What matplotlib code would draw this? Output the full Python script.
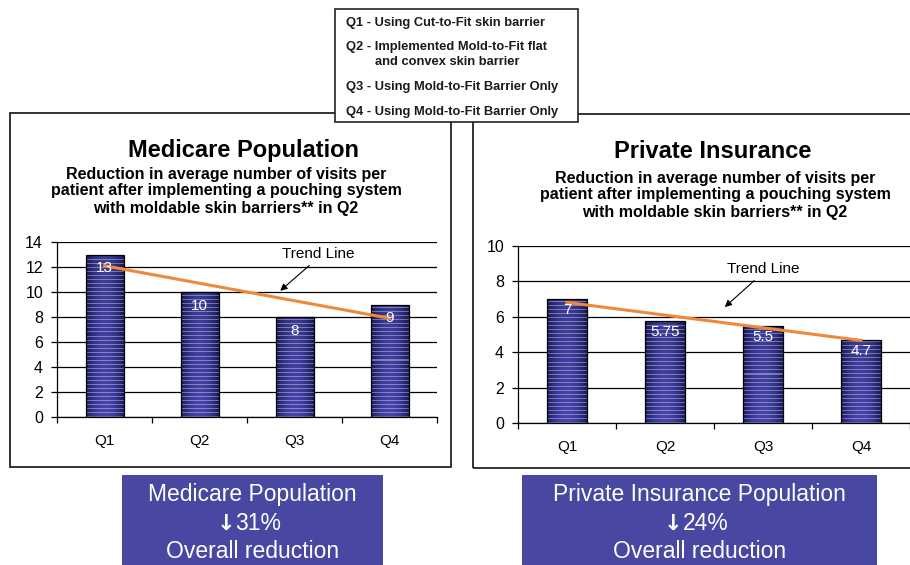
import numpy as np
import matplotlib
matplotlib.use("Agg")
import matplotlib.pyplot as plt
from matplotlib.patches import Rectangle
from matplotlib.text import Annotation

plt.rcParams['font.family'] = ['Liberation Sans', 'DejaVu Sans']

# data
quarters = ['Q1', 'Q2', 'Q3', 'Q4']
medicare_visits = [13, 10, 8, 9]
private_visits = [7, 5.75, 5.5, 4.7]
medicare_labels = ['13', '10', '8', '9']
private_labels = ['7', '5.75', '5.5', '4.7']
medicare_yticks = [0, 2, 4, 6, 8, 10, 12, 14]
private_yticks = [0, 2, 4, 6, 8, 10]

legend_lines = ['Q1 - Using Cut-to-Fit skin barrier',
                'Q2 - Implemented Mold-to-Fit flat',
                'and convex skin barrier',
                'Q3 - Using Mold-to-Fit Barrier Only',
                'Q4 - Using Mold-to-Fit Barrier Only']
subtitle = ['Reduction in average number of visits per',
            'patient after implementing a pouching system',
            'with moldable skin barriers** in Q2']
summary_left = ['Medicare Population', '31%', 'Overall reduction']
summary_right = ['Private Insurance Population', '24%', 'Overall reduction']

W, H = 910, 565
fig = plt.figure(figsize=(W / 100, H / 100), dpi=100)


def fx(px):
    return px / W


def fy(py):
    return 1 - py / H


def frect(x0, y0, x1, y1):
    return [fx(x0), fy(y1), fx(x1) - fx(x0), fy(y0) - fy(y1)]


# panel frames
for x0, y0, x1, y1 in [(10, 113, 451, 467), (473, 114, 925, 468)]:
    fig.add_artist(Rectangle((fx(x0), fy(y1)), fx(x1) - fx(x0), fy(y0) - fy(y1),
                             transform=fig.transFigure, fill=False,
                             edgecolor='#222222', lw=1.3, zorder=1))

dark = np.array([0.10, 0.10, 0.38])
light = np.array([0.27, 0.27, 0.68])


def gradient_bars(ax, bars):
    for b in bars:
        x0, w, h = b.get_x(), b.get_width(), b.get_height()
        p0 = ax.transData.transform((x0, 0))
        p1 = ax.transData.transform((x0 + w, h))
        rows = max(int(abs(p1[1] - p0[1])), 2)
        cols = max(int(abs(p1[0] - p0[0])), 2)
        t = np.abs(np.linspace(-1, 1, cols))
        col = dark + (light - dark) * (1 - t ** 2)[:, None]
        img = np.repeat(col[None, :, :], rows, axis=0)
        # a little darker towards the top
        fade = np.linspace(1.0, 0.85, rows)[:, None, None]
        img = img * fade
        stripe = (np.arange(rows) % 4 == 0)
        img[stripe] = img[stripe] * 0.65 + 0.35
        im = ax.imshow(img, extent=(x0, x0 + w, 0, h), origin='lower',
                       aspect='auto', interpolation='nearest', zorder=2)
        im.set_clip_path(b)


def panel(rect, values, labels, yticks, text_xy, arrow_xy, label_off):
    ax = fig.add_axes(rect)
    x = np.arange(len(quarters))
    ax.set_xlim(-0.5, len(quarters) - 0.5)
    ax.set_ylim(yticks[0], yticks[-1])
    bars = ax.bar(x, values, width=0.4, facecolor='none', edgecolor='black',
                  lw=0.9, zorder=3)
    gradient_bars(ax, bars)
    ax.set_xlim(-0.5, len(quarters) - 0.5)
    ax.set_ylim(yticks[0], yticks[-1])

    coef = np.polyfit(x, values, 1)
    ends = np.array([x[0], x[-1]])
    ax.plot(ends, np.polyval(coef, ends), color='#f0883a', lw=2.2, zorder=4)

    for xi, v, s in zip(x, values, labels):
        ax.annotate(s, (xi, v), xytext=(0, label_off), textcoords='offset points',
                    ha='center', va='center', color='white', fontsize=11, zorder=5)

    ax.annotate('Trend Line', xy=arrow_xy, xytext=text_xy, ha='center', va='center',
                fontsize=11, zorder=6,
                arrowprops=dict(arrowstyle='-|>', color='black', lw=0.8,
                                mutation_scale=10, relpos=(0.45, 0), shrinkA=2, shrinkB=0))

    ax.set_yticks(yticks)
    ax.set_xticks(x)
    ax.set_xticklabels(quarters)
    ax.set_xticks(np.arange(-0.5, len(quarters)), minor=True)
    ax.tick_params(axis='x', which='major', length=0, pad=12, labelsize=11)
    ax.tick_params(axis='x', which='minor', length=4, width=0.9, direction='out')
    ax.tick_params(axis='y', length=4, width=0.9, direction='out', labelsize=11.5, pad=6)
    ax.grid(axis='y', color='black', lw=0.9)
    ax.set_axisbelow(True)
    for s in ['top', 'right']:
        ax.spines[s].set_visible(False)
    for s in ['left', 'bottom']:
        ax.spines[s].set_linewidth(0.9)
    ax.patch.set_alpha(0)
    return ax


panel(frect(57, 242, 437, 417), medicare_visits, medicare_labels, medicare_yticks,
      (2.25, 13.05), (1.85, 10.1), -10)
panel(frect(518, 246, 910, 423), private_visits, private_labels, private_yticks,
      (2.0, 8.7), (1.61, 6.55), -8)

# titles
fig.text(fx(243), fy(150), 'Medicare Population', ha='center', va='center',
         fontsize=17, fontweight='bold')
fig.text(fx(713), fy(152), 'Private Insurance', ha='center', va='center',
         fontsize=17, fontweight='bold')
for i, line in enumerate(subtitle):
    fig.text(fx(226), fy(174 + 17 * i), line, ha='center', va='center',
             fontsize=11.5, fontweight='bold')
    fig.text(fx(715), fy(178 + 17 * i), line, ha='center', va='center',
             fontsize=11.5, fontweight='bold')

# legend box
fig.add_artist(Rectangle((fx(335), fy(122)), fx(578) - fx(335), fy(9) - fy(122),
                         transform=fig.transFigure, facecolor='white',
                         edgecolor='#222222', lw=1.2, zorder=8))
for line, (lx, ly) in zip(legend_lines, [(346, 23), (346, 47), (375, 62),
                                         (346, 87), (346, 112)]):
    fig.text(fx(lx), fy(ly), line, ha='left', va='center', fontsize=9.3,
             fontweight='bold', color='#1a1a1a', zorder=9)

# summary boxes
for (x0, x1), lines in [((122, 383), summary_left), ((522, 877), summary_right)]:
    fig.add_artist(Rectangle((fx(x0), fy(575)), fx(x1) - fx(x0), fy(475) - fy(575),
                             transform=fig.transFigure, facecolor='#4848a2',
                             edgecolor='none', zorder=1))
    cx = (x0 + x1) / 2
    for i, (line, ly) in enumerate(zip(lines, [495, 524, 551])):
        shift = 6 if i == 1 else 0
        t = fig.text(fx(cx + shift), fy(ly), line, ha='center', va='center',
                     fontsize=16.5, color='white', zorder=2)
        if i == 1:
            arrow = Annotation('\u2193', xy=(0, 0.5), xycoords=t, xytext=(0, 0),
                               textcoords='offset points', ha='right', va='center',
                               fontsize=16, fontweight='bold', family='DejaVu Sans',
                               color='white', zorder=2)
            fig.add_artist(arrow)

fig.savefig('out.png', dpi=100)
